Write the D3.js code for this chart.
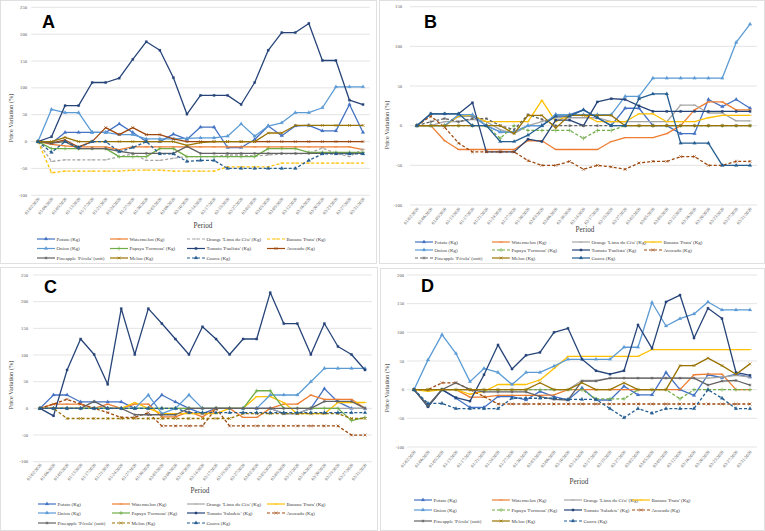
<!DOCTYPE html>
<html>
<head>
  <meta charset="utf-8">
  <title>Price Variation panels</title>
  <style>
    body { margin: 0; background: #fff; }
    svg { display: block; font-family: "Liberation Serif", "Times New Roman", serif; }
  </style>
</head>
<body>
  <div id="chart"></div>

  <script src="https://d3js.org/d3.v7.min.js"></script>
  <script>
    // Category labels (shared by all four panels)
    const dates = ["01/02/2020", "01/06/2020", "01/09/2020", "01/13/2020", "01/17/2020", "01/21/2020",
      "01/24/2020", "01/27/2020", "01/30/2020", "02/03/2020", "02/06/2020", "02/10/2020", "02/14/2020",
      "02/17/2020", "02/19/2020", "02/27/2020", "03/02/2020", "03/05/2020", "03/09/2020", "03/12/2020",
      "03/16/2020", "03/20/2020", "03/23/2020", "03/27/2020", "03/31/2020"];

    const namesAB = ["Potato (Kg)", "Watermelon (Kg)", "Orange 'Lima do Céu' (Kg)", "Banana 'Prata' (Kg)",
      "Onion (Kg)", "Papaya 'Formosa' (Kg)", "Tomato 'Paulista' (Kg)", "Avocado (Kg)",
      "Pineapple 'Pérola' (unit)", "Melon (Kg)", "Guava (Kg)"];
    const namesCD = ["Potato (Kg)", "Watermelon (Kg)", "Orange 'Lima do Céu' (Kg)", "Banana 'Prata' (Kg)",
      "Onion (Kg)", "Papaya 'Formosa' (Kg)", "Tomato 'Saladete' (Kg)", "Avocado (Kg)",
      "Pineapple 'Pérola' (unit)", "Melon (Kg)", "Guava (Kg)"];

    const yTicksA = [-100, -50, 0, 50, 100, 150, 200, 250];
    const yTicksB = [-100, -50, 0, 50, 100, 150];
    const yTicksC = [-100, -50, 0, 50, 100, 150, 200, 250];
    const yTicksD = [-100, -50, 0, 50, 100, 150, 200];

    // Panel A
    const potatoA = [0, -3, 17, 17, 17, 17, 33, 17, 0, 0, 14, 4, 27, 27, -11, -11, 4, 29, 11, 29, 30, 20, 20, 69, 17];
    const watermelonA = [0, -5, -8, -10, -10, -10, -15, -10, -10, -10, -10, -10, -10, -10, -10, -10, -10, -10, -10, -10, -10, -10, -10, -10, -15];
    const orangeA = [0, -37, -34, -34, -34, -34, -28, -23, -35, -35, -31, -28, -28, -28, -25, -25, -27, -25, -23, -23, -22, -12, -22, -28, -14];
    const bananaA = [0, -58, -55, -55, -55, -55, -55, -53, -53, -53, -55, -55, -55, -55, -47, -47, -47, -47, -40, -40, -40, -40, -40, -40, -40];
    const onionA = [0, 60, 54, 54, 17, 17, 13, 13, 5, 5, 5, 6, 7, 7, 10, 33, 10, 29, 35, 54, 54, 63, 102, 102, 102];
    const papayaA = [0, -13, -13, -13, -13, -13, -28, -28, -28, -13, -13, -28, -28, -28, -28, -28, -28, -13, -13, -13, -20, -20, -20, -20, -20];
    const tomatoA = [0, 9, 67, 67, 110, 110, 118, 153, 186, 170, 119, 51, 86, 86, 86, 69, 110, 170, 203, 203, 220, 151, 151, 77, 69];
    const avocadoA = [0, -3, 3, -10, 0, 26, 13, 26, 13, 13, 5, 0, 0, 0, 0, 0, 0, 0, 0, 0, 0, 0, 0, 0, 0];
    const pineappleA = [0, -3, 0, -13, -13, -13, -18, -22, -22, -22, -22, -9, -22, -22, -22, -22, -22, -22, -22, -22, -22, -22, -22, -22, -22];
    const melonA = [0, 0, 8, 0, 0, 0, 0, 0, 0, 0, 0, -7, -2, 0, 0, 0, 0, 16, 16, 30, 30, 30, 30, 30, 30];
    const guavaA = [0, -20, 0, -11, 0, 0, -19, -11, 0, -23, -23, -37, -35, -35, -50, -50, -50, -50, -50, -50, -35, -23, -23, -23, -23];

    // Panel B
    const potatoB = [0, 0, 0, 12, 12, 0, -8, -8, 0, 0, 14, 14, 20, 10, 0, 22, 22, 0, 0, -10, -10, 33, 24, 33, 22];
    const watermelonB = [0, 0, -19, -30, -30, -30, -30, -30, -19, -19, -30, -30, -30, -30, -20, -15, -15, -15, -10, 0, 20, 30, 30, 20, 20];
    const orangeB = [0, 0, 5, 5, 8, 5, -5, -10, 0, 5, 10, 10, 10, 10, 5, 5, 5, 5, 5, 26, 26, 16, 16, 6, 6];
    const bananaB = [0, 0, 0, 12, 13, 5, 5, 5, 5, 32, 5, 14, 14, 5, 5, 5, 15, 15, 5, 5, 5, 10, 13, 13, 13];
    const onionB = [0, 0, 0, 14, 14, 0, -8, -8, 0, 0, 14, 14, 14, 14, 14, 37, 37, 60, 60, 60, 60, 60, 60, 105, 128];
    const papayaB = [0, 0, 0, 0, 0, 0, -16, 0, -6, -6, -6, -6, -16, -6, -6, 0, 0, 0, 0, 0, 0, 0, 0, 0, 0];
    const tomatoB = [0, 15, 15, 15, 29, -33, -33, -33, -17, -20, 7, 7, 0, 30, 34, 33, 25, 18, 18, 18, 18, 18, 18, 18, 18];
    const avocadoB = [0, 12, -2, -22, -33, -33, -33, -33, -44, -50, -50, -45, -55, -50, -52, -55, -47, -45, -45, -39, -39, -50, -50, -45, -45];
    const pineappleB = [0, 5, 9, 5, 9, 9, 0, -5, 14, 8, 0, 0, 0, 0, 0, 0, 0, 0, 0, 0, 0, 0, 0, 0, 0];
    const melonB = [0, 0, 0, 0, 0, 0, 0, -10, 13, 13, -3, 13, 13, 13, 13, 0, 0, 0, 0, 0, 0, 0, 0, 0, 0];
    const guavaB = [0, 15, 15, 15, 0, 0, -20, -20, -12, 0, 12, 12, 20, 10, 0, 0, 34, 40, 40, -22, -22, -22, -50, -50, -50];

    // Panel C
    const potatoC = [0, 25, 25, 12, 12, 12, 12, 0, 0, 25, 12, 0, -10, 0, 0, 0, 0, 0, -10, -10, 0, 37, 12, 0, 0];
    const watermelonC = [0, 8, 8, 8, 0, 8, 0, 8, 8, -16, -16, -6, -16, 0, 0, -17, -17, 0, 8, 8, 25, 17, 17, 17, 0];
    const orangeC = [0, 0, 0, 0, 0, 0, 0, 0, 0, 0, 0, 0, 0, 0, 0, 0, 0, 0, -10, -10, 0, 0, 0, 0, 0];
    const bananaC = [0, 0, 0, 0, 0, 0, 0, 11, 0, -10, -10, -10, -10, -10, 0, 0, 22, 22, 11, -10, -10, -10, 11, 11, 11];
    const onionC = [0, 0, 0, 0, 0, 0, 0, 0, 25, -10, 0, 25, 0, 0, 0, 0, 0, 25, 25, 25, 50, 75, 75, 75, 75];
    const papayaC = [0, 0, 0, 0, 0, 0, 0, 0, 0, 0, 0, 0, 0, 0, 0, 0, 33, 33, 0, 0, 0, 0, 0, -23, -17];
    const tomatoC = [0, -14, 72, 130, 101, 45, 187, 101, 187, 159, 130, 101, 153, 130, 101, 130, 130, 217, 159, 159, 101, 159, 116, 101, 72];
    const avocadoC = [0, 8, 17, 8, 0, -8, -17, -17, -8, -33, -33, -33, -33, 0, -33, -33, -33, -33, -33, -33, -33, -33, -33, -50, -50];
    const pineappleC = [0, 0, 0, 0, 13, 0, 0, -12, -12, -12, -12, 0, 0, 0, 0, 0, 0, 0, 0, 0, 0, 13, 13, 13, 0];
    const melonC = [0, 0, -19, -19, -19, -19, -19, -19, -19, -19, -19, -19, -19, -19, -19, -10, -10, -10, -10, -10, -10, -10, -10, -19, -19];
    const guavaC = [0, 0, 0, 0, 0, 0, 0, 0, 0, 0, 0, -8, -8, -8, -8, -8, -8, -8, -8, -8, -8, -8, -8, -8, -8];

    // Panel D
    const potatoD = [0, -28, 0, -15, -31, -31, -12, -12, -18, -3, -12, -18, 3, -18, -18, 6, -9, -9, 30, 0, -10, 26, 21, 27, 22];
    const watermelonD = [0, 0, 0, 0, -13, -13, -10, -10, -10, -10, -9, 0, 0, 0, 0, 0, 0, 0, 0, 0, 26, 27, 27, 0, 0];
    const orangeD = [0, -28, 0, 0, 0, 0, 0, 0, 0, 0, 0, 0, 16, 16, 20, 20, 20, 20, 20, 20, 20, 20, 22, 25, 22];
    const bananaD = [0, -3, 0, 0, -8, -3, 9, 9, 9, 17, 37, 58, 58, 58, 58, 58, 58, 70, 70, 70, 70, 70, 70, 70, 70];
    const onionD = [0, 52, 96, 63, 14, 37, 30, 9, 30, 30, 41, 53, 53, 53, 53, 74, 74, 152, 111, 124, 132, 153, 139, 139, 139];
    const papayaD = [0, 0, 0, 0, 0, 0, 0, 0, 0, 0, 0, 0, 0, -16, -16, -16, 0, 0, 0, -16, 0, 0, 0, 0, 0];
    const tomatoD = [0, -30, 0, -14, -20, 26, 78, 36, 60, 65, 100, 107, 53, 33, 27, 33, 113, 72, 153, 165, 90, 142, 124, 30, 25];
    const avocadoD = [0, 0, 12, 12, 0, -12, -25, -25, -25, -25, -25, -25, -25, -25, -25, -25, -25, -25, -25, -25, -25, -25, -25, -25, -25];
    const pineappleD = [0, -28, 0, 12, 0, -4, -4, -4, -4, -12, -17, -18, 15, 15, 20, 20, 20, 20, 20, 20, 20, 8, 15, 16, 8];
    const melonD = [0, 0, 0, 0, 0, 0, 0, 0, 0, 12, 0, 0, 12, 0, 0, 12, 0, 0, 0, 42, 42, 55, 42, 27, 45];
    const guavaD = [0, -24, -24, -33, -33, -33, -33, -15, -15, -15, -15, -17, -17, -17, -33, -49, -33, -41, -33, -33, -33, 0, -15, -33, -33];

    // which series are drawn dashed in each panel (index into the series list)
    const dashedA = [2, 3, 10];
    const dashedB = [5, 7, 8];
    const dashedC = [7, 9, 10];
    const dashedD = [5, 7, 10];

    const colors = ["#4472C4", "#ED7D31", "#A5A5A5", "#FFC000", "#5B9BD5", "#70AD47",
      "#264478", "#9E480E", "#636363", "#997300", "#255E91"];
    const markers = ["tri", "dash", "dash", "dash", "tri", "plus", "square", "times", "star", "times", "tri"];

    const W = 765, H = 531;

    const panels = [
      { label: "A", names: namesAB, ticks: yTicksA, dashed: dashedA,
        values: [potatoA, watermelonA, orangeA, bananaA, onionA, papayaA, tomatoA, avocadoA, pineappleA, melonA, guavaA],
        frame: [0.5, 0.5, 376, 263], x: [31.2, 369.8], y: [195.3, 7.3], tickX: 27, tickTop: 199,
        title: [13, 118], period: [203, 228], letter: [42, 28],
        legRows: [239, 248.5, 258], legCols: [37, 110, 187, 267] },
      { label: "B", names: namesAB, ticks: yTicksB, dashed: dashedB,
        values: [potatoB, watermelonB, orangeB, bananaB, onionB, papayaB, tomatoB, avocadoB, pineappleB, melonB, guavaB],
        frame: [379.5, 0.5, 385, 263], x: [410, 757], y: [205, 6.7], tickX: 402, tickTop: 209,
        title: [389, 125], period: [585, 232], letter: [424, 28],
        legRows: [242, 250, 258], legCols: [415, 492, 572, 644] },
      { label: "C", names: namesCD, ticks: yTicksC, dashed: dashedC,
        values: [potatoC, watermelonC, orangeC, bananaC, onionC, papayaC, tomatoC, avocadoC, pineappleC, melonC, guavaC],
        frame: [0.5, 267.5, 377, 263], x: [33.2, 371.8], y: [461.7, 275], tickX: 28, tickTop: 465,
        title: [13, 385], period: [200, 493], letter: [44, 293],
        legRows: [504, 513, 523], legCols: [38, 112, 187, 267] },
      { label: "D", names: namesCD, ticks: yTicksD, dashed: dashedD,
        values: [potatoD, watermelonD, orangeD, bananaD, onionD, papayaD, tomatoD, avocadoD, pineappleD, melonD, guavaD],
        frame: [380.5, 268.5, 384, 262], x: [407, 757], y: [447, 275], tickX: 404, tickTop: 452,
        title: [389, 388], period: [579, 484], letter: [421, 292],
        legRows: [500, 510, 521], legCols: [414, 492, 564, 632] }
    ];

    const svg = d3.select("#chart").append("svg")
      .attr("width", W)
      .attr("height", H);

    const symbolPaths = {
      tri: d3.symbol(d3.symbolTriangle, 6)(),
      square: d3.symbol(d3.symbolSquare, 5)(),
      times: d3.symbol(d3.symbolTimes, 6)(),
      plus: d3.symbol(d3.symbolPlus, 6)(),
      star: d3.symbol(d3.symbolAsterisk, 6)(),
      dash: "M-1.6,0H1.6"
    };

    function drawMarker(g, type, x, y, color) {
      const filled = type === "tri" || type === "square";
      g.append("path")
        .attr("d", symbolPaths[type])
        .attr("transform", `translate(${x},${y})`)
        .attr("fill", filled ? color : "none")
        .attr("stroke", color)
        .attr("stroke-width", filled ? 0.2 : 0.7);
    }

    panels.forEach(p => {
      const g = svg.append("g");

      g.append("rect")
        .attr("x", p.frame[0]).attr("y", p.frame[1])
        .attr("width", p.frame[2]).attr("height", p.frame[3])
        .attr("fill", "#fff")
        .attr("stroke", "#d9d9d9")
        .attr("stroke-width", 0.8);

      const xScale = d3.scalePoint()
        .domain(dates)
        .range(p.x)
        .padding(0.5);

      const yScale = d3.scaleLinear()
        .domain([d3.min(p.ticks), d3.max(p.ticks)])
        .range(p.y);

      // gridlines
      g.selectAll(".grid")
        .data(p.ticks)
        .join("line")
        .attr("x1", p.x[0]).attr("x2", p.x[1])
        .attr("y1", d => yScale(d)).attr("y2", d => yScale(d))
        .attr("stroke", "#d9d9d9")
        .attr("stroke-width", 0.7);

      // y tick labels
      g.selectAll(".ylab")
        .data(p.ticks)
        .join("text")
        .attr("x", p.tickX)
        .attr("y", d => yScale(d) + 1.5)
        .attr("text-anchor", "end")
        .attr("font-size", 4.6)
        .attr("fill", "#595959")
        .text(d => d);

      // x tick labels
      g.selectAll(".xlab")
        .data(dates)
        .join("text")
        .attr("transform", d => `translate(${xScale(d) + 2},${p.tickTop}) rotate(-50)`)
        .attr("text-anchor", "end")
        .attr("font-size", 4.5)
        .attr("fill", "#595959")
        .text(d => d);

      g.append("text")
        .attr("transform", `translate(${p.title[0]},${p.title[1]}) rotate(-90)`)
        .attr("text-anchor", "middle")
        .attr("font-size", 6.3)
        .attr("fill", "#404040")
        .text("Price Variation (%)");

      g.append("text")
        .attr("x", p.period[0]).attr("y", p.period[1])
        .attr("text-anchor", "middle")
        .attr("font-size", 7.2)
        .attr("fill", "#404040")
        .text("Period");

      g.append("text")
        .attr("x", p.letter[0]).attr("y", p.letter[1])
        .attr("font-family", "Liberation Sans, Arial, sans-serif")
        .attr("font-weight", "bold")
        .attr("font-size", 18)
        .attr("fill", "#000")
        .text(p.label);

      const line = d3.line()
        .x((d, i) => xScale(dates[i]))
        .y(d => yScale(d));

      p.values.forEach((vals, s) => {
        const dashed = p.dashed.includes(s);
        g.append("path")
          .datum(vals)
          .attr("d", line)
          .attr("fill", "none")
          .attr("stroke", colors[s])
          .attr("stroke-width", 1.3)
          .attr("stroke-linejoin", "round")
          .attr("stroke-dasharray", dashed ? "3,2" : null);
        vals.forEach((v, i) => drawMarker(g, markers[s], xScale(dates[i]), yScale(v), colors[s]));
      });

      // legend: 4 columns, 3 rows
      p.names.forEach((name, s) => {
        const col = s % 4, row = Math.floor(s / 4);
        const lx = p.legCols[col], ly = p.legRows[row];
        const dashed = p.dashed.includes(s);
        g.append("line")
          .attr("x1", lx).attr("x2", lx + 18)
          .attr("y1", ly).attr("y2", ly)
          .attr("stroke", colors[s])
          .attr("stroke-width", 1.2)
          .attr("stroke-dasharray", dashed ? "3,2" : null);
        drawMarker(g, markers[s], lx + 9, ly, colors[s]);
        g.append("text")
          .attr("x", lx + 19.5).attr("y", ly + 1.7)
          .attr("font-size", 5)
          .attr("fill", "#404040")
          .text(name);
      });
    });
  </script>
</body>
</html>
